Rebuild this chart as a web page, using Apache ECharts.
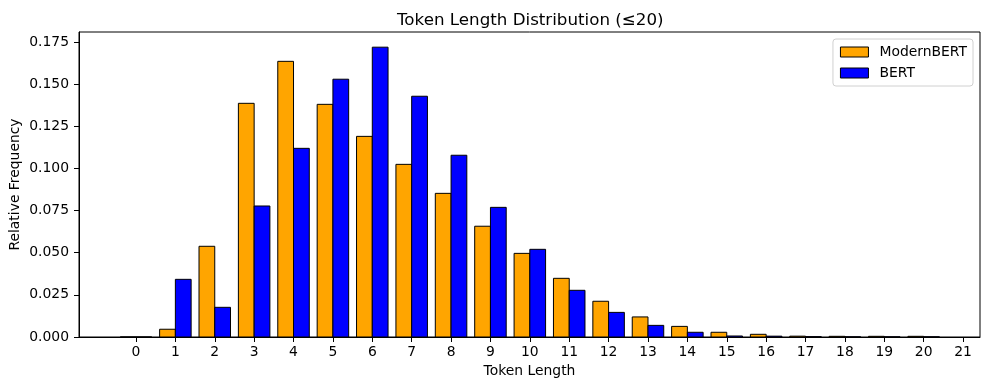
<!DOCTYPE html>
<html>
<head>
<meta charset="utf-8">
<script src="https://cdn.jsdelivr.net/npm/echarts@6/dist/echarts.min.js"></script>
<style>html,body{margin:0;padding:0;background:#fff;}#c{width:989px;height:390px;}</style>
</head>
<body>
<div id="c"></div>
<script>
const tokenLengths = [0,1,2,3,4,5,6,7,8,9,10,11,12,13,14,15,16,17,18,19,20];
const modernBert = [0,0.0046,0.0538,0.1386,0.1635,0.1380,0.1190,0.1024,0.0852,0.0657,0.0496,0.0348,0.0212,0.0119,0.0063,0.0028,0.0016,0.0005,0.0004,0.0004,0.0004];
const bert = [0,0.0342,0.0176,0.0777,0.1119,0.1529,0.1719,0.1428,0.1078,0.0769,0.0520,0.0277,0.0146,0.0069,0.0028,0.0006,0.0005,0.0002,0.0001,0.0001,0.0001];
const xTicks = [0,1,2,3,4,5,6,7,8,9,10,11,12,13,14,15,16,17,18,19,20,21];
const yTicks = [0,0.025,0.05,0.075,0.1,0.125,0.15,0.175];

const BAR_W = 0.4;
const FONT = 'DejaVu Sans';

function makeRender(offset) {
  return function (params, api) {
    const x = api.value(0), y = api.value(1);
    const p0 = api.coord([x + offset, 0]);
    const p1 = api.coord([x + offset + BAR_W, y]);
    return {
      type: 'rect',
      shape: { x: p0[0], y: p1[1], width: p1[0] - p0[0], height: p0[1] - p1[1] },
      style: { fill: api.visual('color'), stroke: '#000', lineWidth: 1 }
    };
  };
}

const chart = echarts.init(document.getElementById('c'));
chart.setOption({
  animation: false,
  backgroundColor: '#fff',
  title: {
    text: 'Token Length Distribution (≤20)',
    left: 392, top: 7,
    textStyle: { fontFamily: FONT, fontSize: 16.7, fontWeight: 'normal', color: '#000' }
  },
  legend: {
    orient: 'vertical', right: 16, top: 39,
    padding: [6, 6, 6, 7],
    itemWidth: 28, itemHeight: 10, itemGap: 7,
    backgroundColor: '#fff', borderColor: '#d0d0d0', borderWidth: 1, borderRadius: 3,
    icon: 'rect',
    textStyle: { fontFamily: FONT, fontSize: 13.9, color: '#000', padding: [0, 0, 0, 6] },
    data: [
      { name: 'ModernBERT', itemStyle: { color: '#FFA500', borderColor: '#000', borderWidth: 1 } },
      { name: 'BERT', itemStyle: { color: '#0000FF', borderColor: '#000', borderWidth: 1 } }
    ]
  },
  grid: { left: 79, right: 9, top: 32, bottom: 53, outerBoundsMode: 'none', containLabel: false,
    show: true, borderColor: '#000', borderWidth: 1, backgroundColor: 'transparent' },
  xAxis: {
    type: 'value', min: -1.447, max: 21.43,
    name: 'Token Length', nameLocation: 'middle', nameGap: 27, nameMoveOverlap: false,
    nameTextStyle: { fontFamily: FONT, fontSize: 13.9, color: '#000' },
    axisLine: { show: true, onZero: false, lineStyle: { color: '#000', width: 1 } },
    axisTick: { show: true, length: 5, lineStyle: { color: '#000' }, customValues: xTicks },
    axisLabel: { fontFamily: FONT, fontSize: 13.9, color: '#000', margin: 8, customValues: xTicks },
    splitLine: { show: false }
  },
  yAxis: {
    type: 'value', min: 0, max: 0.1809,
    name: 'Relative Frequency', nameLocation: 'middle', nameGap: 57, nameMoveOverlap: false,
    nameTextStyle: { fontFamily: FONT, fontSize: 13.9, color: '#000' },
    axisLine: { show: true, onZero: false, lineStyle: { color: '#000', width: 1 } },
    axisTick: { show: true, length: 5, lineStyle: { color: '#000' }, customValues: yTicks },
    axisLabel: { fontFamily: FONT, fontSize: 13.9, color: '#000', margin: 10, customValues: yTicks,
      formatter: v => v.toFixed(3) },
    splitLine: { show: false }
  },
  series: [
    { name: 'ModernBERT', type: 'custom', renderItem: makeRender(-BAR_W),
      itemStyle: { color: '#FFA500', borderColor: '#000' },
      data: tokenLengths.map((t, i) => [t, modernBert[i]]) },
    { name: 'BERT', type: 'custom', renderItem: makeRender(0),
      itemStyle: { color: '#0000FF', borderColor: '#000' },
      data: tokenLengths.map((t, i) => [t, bert[i]]) }
  ]
});
</script>
</body>
</html>
